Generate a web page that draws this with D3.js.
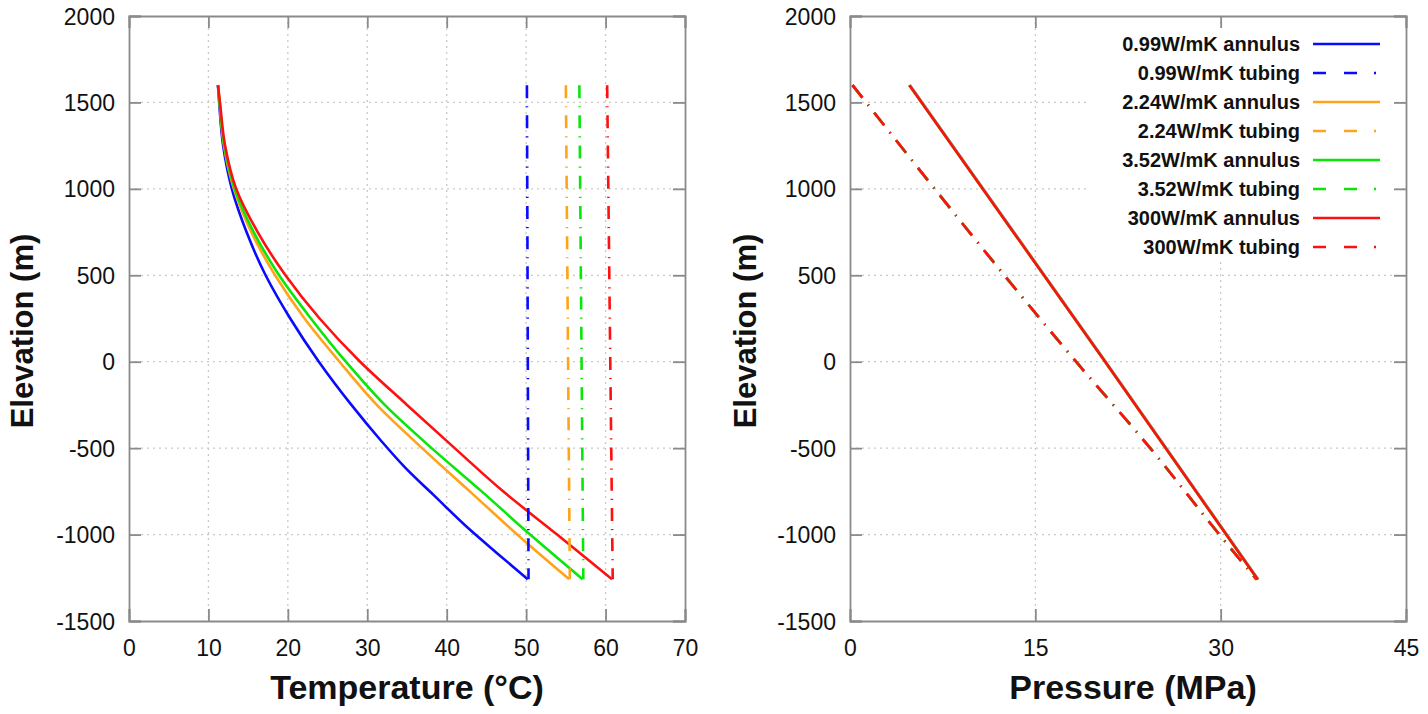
<!DOCTYPE html>
<html>
<head>
<meta charset="utf-8">
<script src="https://cdn.jsdelivr.net/npm/d3@7"></script>
<style>
  html, body { margin: 0; padding: 0; background: #fff; }
  svg { display: block; font-family: "Liberation Sans", Arial, sans-serif; }
</style>
</head>
<body>
<svg id="chart" width="1428" height="714"></svg>
<script>
// ---------------- DATA ----------------
const seriesNames = ["0.99W/mK", "2.24W/mK", "3.52W/mK", "300W/mK"];
const seriesColors = ["#0a0aff", "#ffa31a", "#0ae60a", "#ff1010"];

const tempTicks = [0, 10, 20, 30, 40, 50, 60, 70];
const pressTicks = [0, 15, 30, 45];
const elevTicks = [-1500, -1000, -500, 0, 500, 1000, 1500, 2000];

// Left panel: annulus temperature profiles (elevation m, temperature °C)
const annElev099 = [1600, 1500, 1250, 1000, 750, 500, 250, 0, -250, -450, -614, -769, -971, -1106, -1258];
const annTemp099 = [11.2, 11.35, 11.85, 12.95, 14.8, 17.2, 20.3, 23.9, 28.0, 31.6, 34.8, 38.3, 42.9, 46.3, 50.2];

const annElev224 = [1600, 1500, 1250, 1000, 750, 500, 250, 0, -250, -500, -750, -1058, -1258];
const annTemp224 = [11.2, 11.4, 11.95, 13.2, 15.4, 18.4, 22.1, 26.5, 31.2, 36.9, 42.9, 50.3, 55.4];

const annElev352 = [1600, 1500, 1250, 1000, 750, 500, 250, 0, -250, -500, -750, -1000, -1258];
const annTemp352 = [11.2, 11.4, 12.0, 13.3, 15.7, 18.9, 22.9, 27.3, 32.2, 38.1, 44.4, 50.5, 57.1];

const annElev300 = [1600, 1500, 1250, 1000, 750, 500, 250, 0, -250, -500, -750, -1000, -1258];
const annTemp300 = [11.2, 11.45, 12.1, 13.5, 16.2, 19.7, 24.0, 29.1, 35.0, 41.0, 47.1, 53.9, 60.8];

// Left panel: tubing temperature (nearly constant)
const tubElev = [1600, -1258];
const tubTemp099 = [50.1, 50.3];
const tubTemp224 = [55.0, 55.5];
const tubTemp352 = [56.7, 57.2];
const tubTemp300 = [60.2, 60.9];

// Right panel: pressure profiles (elevation m, pressure MPa)
const annPressElev = [1600, 0, -1260];
const annPress099 = [4.85, 20.7, 33.05];
const annPress224 = [4.8, 20.65, 33.0];
const annPress352 = [4.8, 20.65, 33.0];
const annPress300 = [4.8, 20.65, 33.0];

const tubPressElev = [1600, 0, -500, -1000, -1260];
const tubPress099 = [0.2, 18.3, 24.3, 29.9, 32.9];
const tubPress224 = [0.2, 18.3, 24.3, 29.9, 32.9];
const tubPress352 = [0.2, 18.3, 24.3, 29.9, 32.9];
const tubPress300 = [0.2, 18.3, 24.3, 29.9, 32.9];

// ---------------- BUILD ----------------
const annTempSeries = [
  [annElev099, annTemp099], [annElev224, annTemp224], [annElev352, annTemp352], [annElev300, annTemp300]
];
const tubTempSeries = [tubTemp099, tubTemp224, tubTemp352, tubTemp300];
const annPressSeries = [annPress099, annPress224, annPress352, annPress300];
const tubPressSeries = [tubPress099, tubPress224, tubPress352, tubPress300];

const svg = d3.select("#chart");
const axisColor = "#8a8a8a";
const gridColor = "#c9c9c9";
const fmt = d => String(d);

const yTop = 16, yBot = 621;

function panel(opts) {
  const { x0, x1, xDomain, xTicks, xTitle, yTitleX, xTitleShift } = opts;
  const x = d3.scaleLinear().domain(xDomain).range([x0, x1]);
  const y = d3.scaleLinear().domain([-1500, 2000]).range([yBot, yTop]);
  const g = svg.append("g");

  // grid
  g.append("g").selectAll("line").data(xTicks.filter(t => t !== xDomain[0] && t !== xDomain[1])).join("line")
    .attr("x1", d => x(d)).attr("x2", d => x(d)).attr("y1", yTop).attr("y2", yBot)
    .attr("stroke", gridColor).attr("stroke-width", 1.3).attr("stroke-dasharray", "2,4");
  g.append("g").selectAll("line").data(elevTicks.filter(t => t !== -1500 && t !== 2000)).join("line")
    .attr("y1", d => y(d)).attr("y2", d => y(d)).attr("x1", x0).attr("x2", x1)
    .attr("stroke", gridColor).attr("stroke-width", 1.3).attr("stroke-dasharray", "2,4");

  // axes (ticks inward, mirrored)
  const tl = 12;
  const axB = d3.axisBottom(x).tickValues(xTicks).tickSize(-tl).tickFormat(fmt);
  const axT = d3.axisTop(x).tickValues(xTicks).tickSize(-tl).tickFormat("");
  const axL = d3.axisLeft(y).tickValues(elevTicks).tickSize(-tl).tickFormat(fmt);
  const axR = d3.axisRight(y).tickValues(elevTicks).tickSize(-tl).tickFormat("");

  const gb = g.append("g").attr("transform", `translate(0,${yBot})`).call(axB);
  const gt = g.append("g").attr("transform", `translate(0,${yTop})`).call(axT);
  const gl = g.append("g").attr("transform", `translate(${x0},0)`).call(axL);
  const gr = g.append("g").attr("transform", `translate(${x1},0)`).call(axR);
  [gb, gt, gl, gr].forEach(a => {
    a.selectAll(".domain").attr("stroke", axisColor).attr("stroke-width", 1.8);
    a.selectAll(".tick line").attr("stroke", axisColor).attr("stroke-width", 1.8);
    a.selectAll("text").attr("font-size", 23).attr("fill", "#111").attr("font-family", "Liberation Sans, Arial, sans-serif");
  });
  gb.selectAll("text").attr("dy", "0.35em").attr("y", 27);
  gl.selectAll("text").attr("x", -14).attr("dy", "0.35em");

  // titles
  g.append("text").attr("x", (x0 + x1) / 2 + (xTitleShift || 0)).attr("y", 699).attr("text-anchor", "middle")
    .attr("font-size", 34).attr("font-weight", "bold").attr("fill", "#111").text(xTitle);
  g.append("text").attr("transform", `translate(${yTitleX},331) rotate(-90)`).attr("text-anchor", "middle")
    .attr("dominant-baseline", "central")
    .attr("font-size", 31).attr("font-weight", "bold").attr("fill", "#111").text("Elevation (m)");

  return { g, x, y };
}

// Left panel
const L = panel({ x0: 129, x1: 685, xDomain: [0, 70], xTicks: tempTicks, xTitle: "Temperature (°C)", yTitleX: 22 });
const lineL = d3.line().x(d => L.x(d[1])).y(d => L.y(d[0])).curve(d3.curveMonotoneY);
const lineLs = d3.line().x(d => L.x(d[1])).y(d => L.y(d[0]));
const plotL = L.g.append("g");
seriesNames.forEach((name, i) => {
  const [el, tv] = annTempSeries[i];
  plotL.append("path").datum(el.map((e, k) => [e, tv[k]]))
    .attr("d", lineL).attr("fill", "none").attr("stroke", seriesColors[i]).attr("stroke-width", 2.6)
    .attr("stroke-linejoin", "round");
});
seriesNames.forEach((name, i) => {
  const tv = tubTempSeries[i];
  plotL.append("path").datum(tubElev.map((e, k) => [e, tv[k]]))
    .attr("d", lineLs).attr("fill", "none").attr("stroke", seriesColors[i]).attr("stroke-width", 2.6)
    .attr("stroke-dasharray", "13,8,1.2,8");
});

// Right panel
const R = panel({ x0: 850, x1: 1406, xDomain: [0, 45], xTicks: pressTicks, xTitle: "Pressure (MPa)", yTitleX: 745, xTitleShift: 5 });
const lineR = d3.line().x(d => R.x(d[1])).y(d => R.y(d[0])).curve(d3.curveMonotoneY);
const plotR = R.g.append("g");
seriesNames.forEach((name, i) => {
  const tv = tubPressSeries[i];
  plotR.append("path").datum(tubPressElev.map((e, k) => [e, tv[k]]))
    .attr("d", lineR).attr("fill", "none").attr("stroke", seriesColors[i]).attr("stroke-width", 2.6)
    .attr("stroke-dasharray", "16,9,1.2,9");
});
seriesNames.forEach((name, i) => {
  const tv = annPressSeries[i];
  plotR.append("path").datum(annPressElev.map((e, k) => [e, tv[k]]))
    .attr("d", lineR).attr("fill", "none").attr("stroke", i === 0 ? "#8090c0" : seriesColors[i]).attr("stroke-width", 2.6);
});

// Legend
const legend = svg.append("g");
legend.append("rect").attr("x", 1086).attr("y", 28).attr("width", 306).attr("height", 232).attr("fill", "#fff");
const legendItems = [];
seriesNames.forEach((n, i) => {
  legendItems.push({ label: n + " annulus", color: seriesColors[i], dashed: false });
  legendItems.push({ label: n + " tubing", color: seriesColors[i], dashed: true });
});
const rowY = d3.scaleLinear().domain([0, 7]).range([44, 247]);
const rows = legend.selectAll("g.row").data(legendItems).join("g").attr("class", "row")
  .attr("transform", (d, i) => `translate(0,${rowY(i)})`);
rows.append("text").attr("x", 1300).attr("y", 0).attr("text-anchor", "end").attr("dominant-baseline", "central")
  .attr("font-size", 20).attr("font-weight", "bold").attr("fill", "#111").text(d => d.label);
rows.append("line").attr("x1", 1313).attr("x2", 1380).attr("y1", 0).attr("y2", 0)
  .attr("stroke", d => d.color).attr("stroke-width", 2.6)
  .attr("stroke-dasharray", d => d.dashed ? "13,18,13,17,2,100" : null);
</script>
</body>
</html>
